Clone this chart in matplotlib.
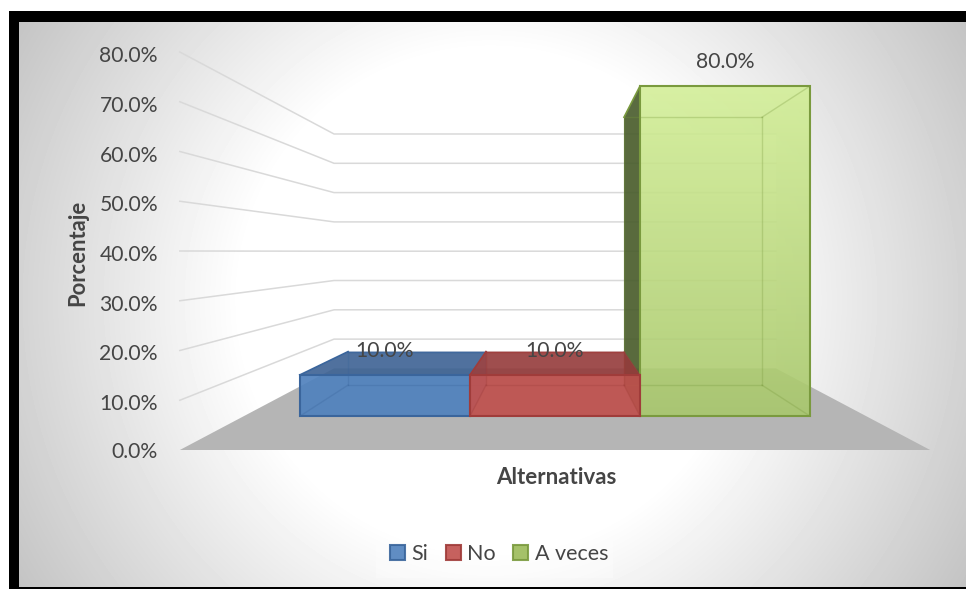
import numpy as np
import matplotlib.pyplot as plt
from matplotlib.colors import to_rgb
from matplotlib.patches import Polygon, Rectangle, Patch

plt.rcParams['font.family'] = ['Lato', 'DejaVu Sans']

categories = ['Si', 'No', 'A veces']
values = [10.0, 10.0, 80.0]
ticks = [0, 10, 20, 30, 40, 50, 60, 70, 80]
xlabel = 'Alternativas'
ylabel = 'Porcentaje'

face_colors = ['#4f81bd', '#c0504d', '#9bbb59']
edge_colors = ['#3a659c', '#a03c3a', '#7a9a3e']
dark_colors = ['#3c6091', '#923a3a', '#485b2b']
bar_z = [4.1, 4.2, 4.0]
text_color = '#454545'

W, H = 966, 589

# projection of the 3d box, everything goes through these two
cx, cy = 555.0, 251.5
unit_x = 205.0
unit_v = 4.975
wall_half = 1.83
s_back = 0.589
s_bar_front = 0.83
s_bar_back = 0.673


def px(x, s):
    return cx + s * x * unit_x


def py(v, s):
    return cy + s * (198.5 - v * unit_v)


fig = plt.figure(figsize=(W / 100, H / 100), dpi=100, facecolor='white')
ax = fig.add_axes([0, 0, 1, 1])
ax.axis('off')

# black frame and the radial background
ax.add_patch(Rectangle((9, 11), W - 9, H - 11, facecolor='black', edgecolor='none', zorder=0))
yy, xx = np.mgrid[22:587, 19:966]
dist = np.sqrt((xx - 490.0) ** 2 + (yy - 300.0) ** 2)
shade = np.clip(255 - (dist - 250) / 300 * 59, 190, 255)
ax.imshow(shade, extent=(19, 966, 587, 22), cmap='gray', vmin=0, vmax=255, zorder=1, aspect='auto')
ax.set_xlim(0, W)
ax.set_ylim(H, 0)

# floor
ax.add_patch(Polygon([(px(-wall_half, 1), py(0, 1)), (px(wall_half, 1), py(0, 1)),
                      (px(wall_half, s_back), py(0, s_back)), (px(-wall_half, s_back), py(0, s_back))],
                     facecolor='#b5b5b5', edgecolor='none', zorder=2))

# back wall
ax.add_patch(Polygon([(px(-wall_half, s_back), py(0, s_back)), (px(wall_half, s_back), py(0, s_back)),
                      (px(wall_half, s_back), py(80, s_back)), (px(-wall_half, s_back), py(80, s_back))],
                     facecolor='white', edgecolor='none', zorder=2))

# gridlines: side wall then back wall
for t in ticks:
    if t == 0:
        ax.text(158, py(0, 1) + 2, '%.1f%%' % 0, ha='right', va='center', fontsize=15.2, color=text_color, zorder=8)
        continue
    ax.plot([px(-wall_half, 1), px(-wall_half, s_back), px(wall_half, s_back)],
            [py(t, 1), py(t, s_back), py(t, s_back)], color='#d9d9d9', lw=1.1, zorder=3)
    ax.text(158, py(t, 1) + 4, '%.1f%%' % t, ha='right', va='center', fontsize=15.2, color=text_color, zorder=8)


# bars
def box_face(x0, x1, v0, v1, s0, s1):
    return [(px(x0, s0), py(v0, s0)), (px(x1, s0), py(v0, s0)), (px(x1, s1), py(v1, s1)), (px(x0, s1), py(v1, s1))]


for i, val in enumerate(values):
    x0 = i - 1.5
    x1 = i - 0.5
    fc = face_colors[i]
    ec = edge_colors[i]
    tall = val > 40
    z = bar_z[i]
    thin = 0.15 if tall else 0.35
    back = [(px(x0, s_bar_back), py(0, s_bar_back)), (px(x1, s_bar_back), py(0, s_bar_back)),
            (px(x1, s_bar_back), py(val, s_bar_back)), (px(x0, s_bar_back), py(val, s_bar_back))]
    ax.add_patch(Polygon(back, facecolor=fc, edgecolor='none', alpha=thin, zorder=z))
    ax.add_patch(Polygon(box_face(x0, x1, 0, 0, s_bar_front, s_bar_back), facecolor=fc, edgecolor='none',
                         alpha=thin, zorder=z))
    left = [(px(x0, s_bar_front), py(0, s_bar_front)), (px(x0, s_bar_back), py(0, s_bar_back)),
            (px(x0, s_bar_back), py(val, s_bar_back)), (px(x0, s_bar_front), py(val, s_bar_front))]
    right = [(px(x1, s_bar_front), py(0, s_bar_front)), (px(x1, s_bar_back), py(0, s_bar_back)),
             (px(x1, s_bar_back), py(val, s_bar_back)), (px(x1, s_bar_front), py(val, s_bar_front))]
    ax.add_patch(Polygon(left, facecolor=dark_colors[i] if tall else fc, edgecolor='none',
                         alpha=0.9 if tall else thin, zorder=z))
    ax.add_patch(Polygon(right, facecolor=fc, edgecolor='none', alpha=thin, zorder=z))
    # top: seen from above on the short bars, from below on the tall one
    top = box_face(x0, x1, val, val, s_bar_front, s_bar_back)
    if not tall:
        ax.add_patch(Polygon(top, facecolor=dark_colors[i], edgecolor='none', alpha=0.85, zorder=z))
    # front
    front = [(px(x0, s_bar_front), py(0, s_bar_front)), (px(x1, s_bar_front), py(0, s_bar_front)),
             (px(x1, s_bar_front), py(val, s_bar_front)), (px(x0, s_bar_front), py(val, s_bar_front))]
    if tall:
        # light top to darker bottom on the tall bar
        top_rgb = np.array(to_rgb('#d3ef97'))
        low_rgb = np.array(to_rgb('#a9c86c'))
        f = np.linspace(0, 1, 256)[:, None]
        grad = np.zeros((256, 1, 4))
        grad[:, :, :3] = (top_rgb * (1 - f) + low_rgb * f)[:, None, :]
        grad[:, :, 3] = 0.88
        im = ax.imshow(grad, extent=(px(x0, s_bar_front), px(x1, s_bar_front), py(0, s_bar_front), py(val, s_bar_front)),
                       aspect='auto', zorder=z + 0.05)
        ax.set_xlim(0, W)
        ax.set_ylim(H, 0)
    else:
        ax.add_patch(Polygon(front, facecolor=fc, edgecolor='none', alpha=0.87, zorder=z + 0.05))
    # inner edges show through
    lines = [(px(x0, s_bar_back), px(x1, s_bar_back), py(0, s_bar_back), py(0, s_bar_back)),
             (px(x0, s_bar_back), px(x1, s_bar_back), py(val, s_bar_back), py(val, s_bar_back)),
             (px(x0, s_bar_back), px(x0, s_bar_back), py(0, s_bar_back), py(val, s_bar_back)),
             (px(x1, s_bar_back), px(x1, s_bar_back), py(0, s_bar_back), py(val, s_bar_back)),
             (px(x0, s_bar_front), px(x0, s_bar_back), py(0, s_bar_front), py(0, s_bar_back)),
             (px(x1, s_bar_front), px(x1, s_bar_back), py(0, s_bar_front), py(0, s_bar_back)),
             (px(x1, s_bar_front), px(x1, s_bar_back), py(val, s_bar_front), py(val, s_bar_back))]
    for xa, xb, ya, yb in lines:
        ax.plot([xa, xb], [ya, yb], color=ec, lw=1, alpha=0.3, zorder=z + 0.06)
    # outer edges
    ax.plot([px(x0, s_bar_front), px(x0, s_bar_back)], [py(val, s_bar_front), py(val, s_bar_back)],
            color=ec, lw=1.2, zorder=z + 0.06)
    if not tall:
        ax.plot([px(x0, s_bar_back), px(x1, s_bar_back)], [py(val, s_bar_back), py(val, s_bar_back)],
                color=ec, lw=1, alpha=0.6, zorder=z + 0.06)
    ax.add_patch(Polygon(front, facecolor='none', edgecolor=ec, lw=1.5, zorder=z + 0.07))
    # value label
    ax.text(px(i - 1, s_bar_front), py(val, s_bar_front) - 24, '%.1f%%' % val, ha='center', va='center',
            fontsize=15.2, color=text_color, zorder=8)

ax.text(78, 253, ylabel, rotation=90, ha='center', va='center', fontsize=15.8, fontweight='bold', color=text_color, zorder=8)
ax.text(556, 478, xlabel, ha='center', va='center', fontsize=16, fontweight='bold', color=text_color, zorder=8)

# legend box is a touch lighter than the background
ax.add_patch(Rectangle((376, 532), 237, 46, facecolor='white', edgecolor='none', alpha=0.3, zorder=3))
handles = [Patch(facecolor=face_colors[i], edgecolor=edge_colors[i], lw=1.5, alpha=0.9, label=categories[i])
           for i in range(len(categories))]
leg = ax.legend(handles=handles, loc='center', bbox_to_anchor=(499, 554), bbox_transform=ax.transData, ncol=3,
                frameon=False, fontsize=15.5, handlelength=0.7, handleheight=0.7, handletextpad=0.3,
                columnspacing=0.8, labelcolor=text_color)
leg.set_zorder(8)

fig.savefig('out.png', dpi=100)
